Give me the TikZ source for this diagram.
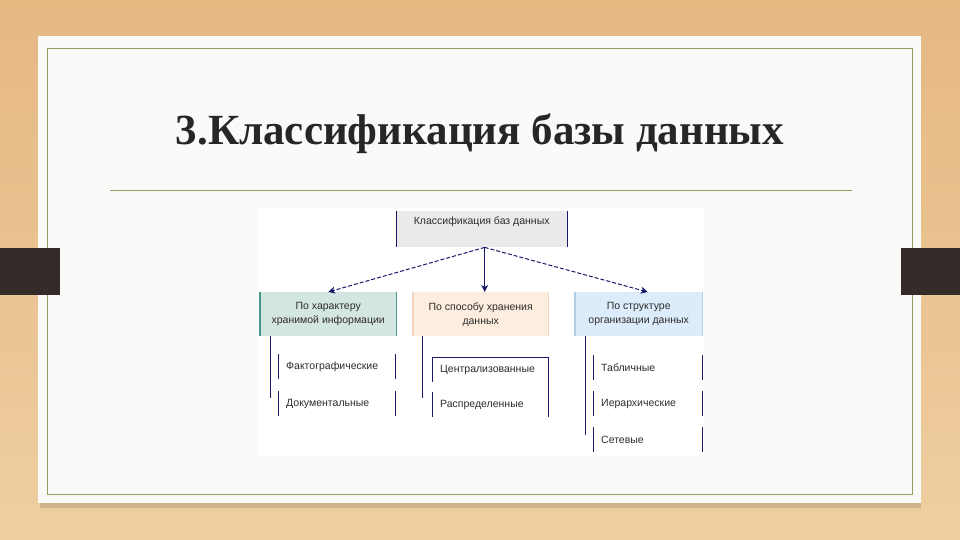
\documentclass[tikz,border=0pt]{standalone}
\usepackage{fontspec}
\setmainfont{Liberation Serif}
\newfontfamily\diagfont{Liberation Sans}
\usetikzlibrary{arrows.meta}

\definecolor{woodtop}{RGB}{229,184,130}
\definecolor{woodbottom}{RGB}{239,206,160}
\definecolor{slide}{RGB}{250,250,249}
\definecolor{olive}{RGB}{150,158,100}
\definecolor{barcol}{RGB}{52,44,40}
\definecolor{navy}{RGB}{25,25,105}
\definecolor{tealfill}{RGB}{212,230,226}
\definecolor{tealline}{RGB}{70,150,140}
\definecolor{peachfill}{RGB}{253,237,222}
\definecolor{peachline}{RGB}{240,212,190}
\definecolor{bluefill}{RGB}{221,236,251}
\definecolor{blueline}{RGB}{175,205,230}
\definecolor{topfill}{RGB}{234,234,236}
\definecolor{txt}{RGB}{45,45,45}

\begin{document}
\begin{tikzpicture}[x=1pt, y=-1pt]
	\tikzstyle{every node}=[align=center, inner sep=1pt, text=txt, font=\diagfont\fontsize{10.5}{14}\selectfont]
	\tikzstyle{catbox}=[anchor=north west, minimum height=44pt]
	\tikzstyle{leaf}=[anchor=north west, minimum height=25pt, inner xsep=8pt, align=left]
	\tikzstyle{side}=[navy, line width=1pt]
	\tikzstyle{branch}=[navy, line width=1pt, -{Stealth[length=7pt, width=7pt, inset=2pt]}]

	% background, slide and bars
	\useasboundingbox (0,0) rectangle (960,540);
	\shade[top color=woodtop, bottom color=woodbottom] (0,0) rectangle (960,540);
	\fill[black, opacity=0.12] (40,42) rectangle (921,508);
	\fill[slide] (38,36) rectangle (921,503);
	\draw[olive, line width=0.8pt] (47,48) rectangle (912,494);
	\fill[barcol] (0,248) rectangle (60,295);
	\fill[barcol] (901,248) rectangle (960,295);

	% title
	\node[anchor=base, text=black!85, font=\bfseries\fontsize{43}{48}\selectfont] (title) at (480,145) {3.Классификация базы данных};
	\coordinate (ruleL) at (110,190);
	\coordinate (ruleR) at (852,190);
	\draw[olive, line width=0.9pt] (ruleL) -- (ruleR);

	% diagram
	\fill[white] (258,208) rectangle (704,456);
	\node[anchor=north west, fill=topfill, minimum width=171pt, inner ysep=6pt, text height=7pt, text depth=17pt] (top) at (396,211) {Классификация баз данных};

	\node[catbox, fill=tealfill, minimum width=136pt] (kind) at (260,292) {По характеру\\хранимой информации};
	\node[catbox, fill=peachfill, minimum width=135pt] (store) at (413,292) {По способу хранения\\данных};
	\node[catbox, fill=bluefill, minimum width=127pt] (struct) at (575,292) {По структуре\\организации данных};

	\node[leaf, text width=101pt] (fact) at (278,354) {Фактографические};
	\node[leaf, text width=101pt] (docs) at (278,391) {Документальные};
	\node[leaf, text width=100pt] (centr) at (432,357) {Централизованные};
	\node[leaf, text width=100pt] (distr) at (432,392) {Распределенные};
	\node[leaf, text width=93pt] (table) at (593,355) {Табличные};
	\node[leaf, text width=93pt] (hier) at (593,391) {Иерархические};
	\node[leaf, text width=93pt] (net) at (593,427) {Сетевые};

	\draw[side] (top.north west) -- (top.south west) (top.north east) -- (top.south east);
	\draw[tealline, line width=1.2pt] (kind.north west) -- (kind.south west) (kind.north east) -- (kind.south east);
	\draw[peachline, line width=1.2pt] (store.north west) -- (store.south west) (store.north east) -- (store.south east);
	\draw[blueline, line width=1.2pt] (struct.north west) -- (struct.south west) (struct.north east) -- (struct.south east);

	\foreach \n in {fact, docs, centr, distr, table, hier, net}
		\draw[side] (\n.north west) -- (\n.south west) (\n.north east) -- (\n.south east);
	\draw[side] (centr.north west) -- (centr.north east);
	\draw[side] (centr.north east) -- (distr.south east);

	\draw[branch, dash pattern=on 4pt off 2pt] ([xshift=3pt]top.south) -- (kind.north);
	\draw[branch] ([xshift=3pt]top.south) -- ([xshift=4pt]store.north);
	\draw[branch, dash pattern=on 4pt off 2pt] ([xshift=3pt]top.south) -- ([xshift=9pt]struct.north);

	\coordinate (kindend) at (270,398);
	\coordinate (storeend) at (422,398);
	\coordinate (structend) at (585,435);
	\draw[side] ([xshift=10pt]kind.south west) -- (kindend);
	\draw[side] ([xshift=9pt]store.south west) -- (storeend);
	\draw[side] ([xshift=10pt]struct.south west) -- (structend);
\end{tikzpicture}
\end{document}
